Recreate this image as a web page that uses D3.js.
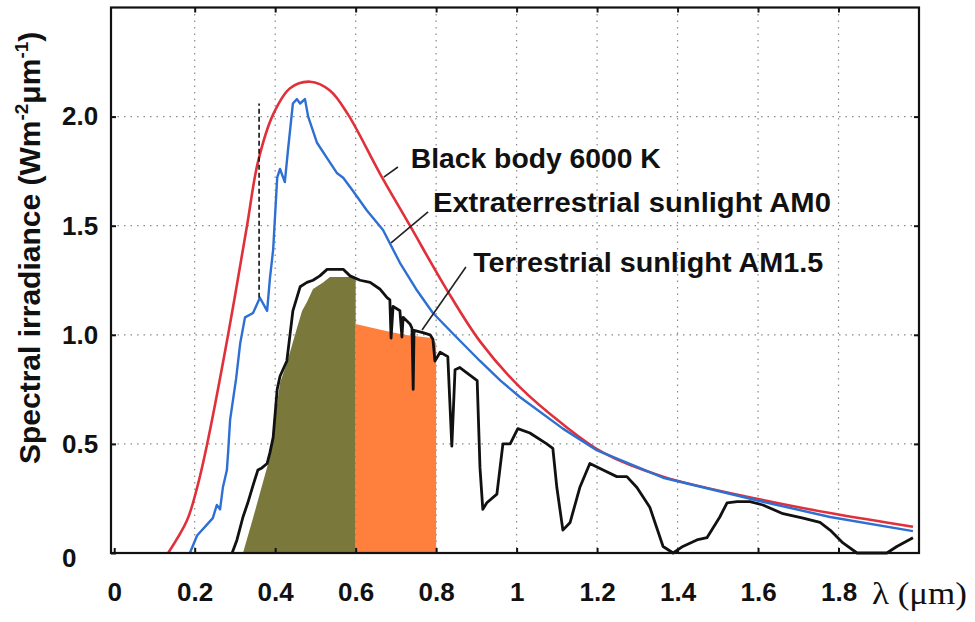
<!DOCTYPE html>
<html>
<head>
<meta charset="utf-8">
<script src="https://cdnjs.cloudflare.com/ajax/libs/d3/7.8.5/d3.min.js"></script>
<style>
  body { margin: 0; background: #fff; }
  svg { display: block; font-family: "Liberation Sans", Arial, sans-serif; }
</style>
</head>
<body>
<svg width="975" height="622"></svg>
<script>
// wavelength (um) / irradiance (W m-2 um-1)
var blackBody = [
  [0.134, 0], [0.181, 0.15], [0.206, 0.30], [0.231, 0.50], [0.283, 1.0], [0.330, 1.50],
  [0.357, 1.79], [0.395, 2.01], [0.437, 2.13], [0.487, 2.16], [0.536, 2.12], [0.581, 2.01],
  [0.660, 1.74], [0.735, 1.50], [0.827, 1.205], [0.909, 0.97], [1.008, 0.76],
  [1.115, 0.59], [1.215, 0.46], [1.364, 0.35], [1.612, 0.243], [1.779, 0.183], [1.985, 0.12]
];

var am0 = [
  [0.188, 0], [0.206, 0.08], [0.245, 0.16], [0.255, 0.22], [0.263, 0.20], [0.270, 0.30],
  [0.280, 0.38], [0.283, 0.46], [0.288, 0.61], [0.303, 0.80], [0.313, 0.96], [0.325, 1.08],
  [0.345, 1.10], [0.362, 1.17], [0.380, 1.11], [0.387, 1.26], [0.395, 1.39], [0.405, 1.72],
  [0.412, 1.76], [0.424, 1.70], [0.432, 1.85], [0.444, 2.06], [0.454, 2.08], [0.462, 2.06],
  [0.474, 2.08], [0.482, 2.00], [0.504, 1.88], [0.529, 1.81], [0.554, 1.74], [0.569, 1.72],
  [0.593, 1.66], [0.628, 1.57], [0.668, 1.48], [0.710, 1.33], [0.750, 1.21], [0.792, 1.10],
  [0.850, 0.99], [0.909, 0.88], [0.960, 0.79], [1.008, 0.715], [1.115, 0.57], [1.200, 0.47],
  [1.364, 0.345], [1.612, 0.235], [1.779, 0.165], [1.985, 0.10]
];

var am15 = [
  [0.293, 0], [0.305, 0.06], [0.320, 0.165], [0.332, 0.23], [0.345, 0.31], [0.357, 0.38],
  [0.367, 0.39], [0.380, 0.41], [0.387, 0.46], [0.395, 0.53], [0.405, 0.75], [0.412, 0.81],
  [0.429, 0.88], [0.444, 1.11], [0.462, 1.22], [0.479, 1.24], [0.494, 1.25], [0.511, 1.27],
  [0.529, 1.30], [0.569, 1.30], [0.586, 1.27], [0.611, 1.25], [0.636, 1.24], [0.660, 1.21],
  [0.678, 1.17], [0.685, 1.16], [0.688, 0.985], [0.693, 1.13], [0.710, 1.11], [0.715, 0.99],
  [0.718, 1.08], [0.735, 1.05], [0.740, 1.03], [0.743, 0.75], [0.745, 1.02], [0.767, 1.01],
  [0.785, 1.00], [0.792, 0.98], [0.797, 0.88], [0.810, 0.92], [0.829, 0.90], [0.839, 0.49],
  [0.847, 0.84], [0.859, 0.85], [0.902, 0.79], [0.909, 0.39], [0.916, 0.20], [0.926, 0.23],
  [0.951, 0.27], [0.966, 0.50], [0.984, 0.50], [1.003, 0.57], [1.033, 0.55], [1.075, 0.50],
  [1.090, 0.48], [1.100, 0.30], [1.115, 0.105], [1.133, 0.14], [1.157, 0.30], [1.182, 0.41],
  [1.215, 0.38], [1.249, 0.35], [1.274, 0.35], [1.299, 0.30], [1.331, 0.21], [1.364, 0.03],
  [1.389, 0], [1.413, 0.03], [1.448, 0.06], [1.473, 0.07], [1.505, 0.165], [1.523, 0.23],
  [1.548, 0.235], [1.580, 0.235], [1.612, 0.22], [1.662, 0.18], [1.712, 0.16], [1.754, 0.14],
  [1.779, 0.105], [1.811, 0.046], [1.846, 0], [1.920, 0], [1.945, 0.03], [1.985, 0.07]
];

// shaded bands under the AM1.5 curve
var oliveBand = [
  [0.320, 0], [0.345, 0.16], [0.387, 0.44], [0.412, 0.78], [0.429, 0.87], [0.454, 1.03],
  [0.467, 1.11], [0.479, 1.15], [0.494, 1.21], [0.519, 1.24], [0.536, 1.265], [0.600, 1.265]
];
var orangeBand = [
  [0.600, 1.05], [0.670, 1.02], [0.720, 1.00], [0.790, 0.985], [0.800, 0.96]
];

var xTicks = [0, 0.2, 0.4, 0.6, 0.8, 1, 1.2, 1.4, 1.6, 1.8];
var yTicks = [0, 0.5, 1.0, 1.5, 2.0];
var xGrid = [0.2, 0.4, 0.6, 0.8, 1, 1.2, 1.4, 1.6, 1.8];
var yGrid = [0.5, 1.0, 1.5, 2.0];

// the dashed marker near 0.36 um
var marker = [[0.36, 1.17], [0.36, 2.06]];

// labels: text, start point, leader line (all in data units)
var labels = [
  { text: "Black body 6000 K", at: [0.737, 1.764], len: 250, lead: [[0.670, 1.723], [0.705, 1.769]] },
  { text: "Extraterrestrial sunlight AM0", at: [0.792, 1.563], len: 398, lead: [[0.688, 1.421], [0.780, 1.563]] },
  { text: "Terrestrial sunlight AM1.5", at: [0.892, 1.288], len: 350, lead: [[0.765, 1.022], [0.874, 1.311]] }
];

var svg = d3.select("svg");
var plotL = 111, plotR = 919, plotT = 7.5, plotB = 553;

var x = d3.scaleLinear().domain([-0.008, 2.0]).range([plotL, plotR]);
var y = d3.scaleLinear().domain([0, 2.5]).range([plotB, plotT]);

// grid
var grid = svg.append("g").attr("stroke", "#8a8a8a").attr("stroke-width", 1.2)
    .attr("stroke-dasharray", "1.5,5");
grid.selectAll(".gx").data(xGrid).enter().append("line")
    .attr("x1", d => x(d)).attr("x2", d => x(d)).attr("y1", plotT).attr("y2", plotB);
grid.selectAll(".gy").data(yGrid).enter().append("line")
    .attr("x1", plotL).attr("x2", plotR).attr("y1", d => y(d)).attr("y2", d => y(d));

// filled bands
var area = d3.area().x(d => x(d[0])).y0(plotB).y1(d => y(d[1]));
svg.append("path").datum(oliveBand).attr("d", area).attr("fill", "#7a793b");
svg.append("path").datum(orangeBand).attr("d", area).attr("fill", "#ff7f3c");

// curves
var line = d3.line().x(d => x(d[0])).y(d => y(d[1]));
svg.append("path").datum(blackBody).attr("d", d3.line().x(d => x(d[0])).y(d => y(d[1])).curve(d3.curveCatmullRom))
    .attr("fill", "none").attr("stroke", "#e0303a").attr("stroke-width", 2.6);
svg.append("path").datum(am0).attr("d", line)
    .attr("fill", "none").attr("stroke", "#2d6fd2").attr("stroke-width", 2.4)
    .attr("stroke-linejoin", "round");
svg.append("path").datum(am15).attr("d", line)
    .attr("fill", "none").attr("stroke", "#111").attr("stroke-width", 2.8)
    .attr("stroke-linejoin", "round");

svg.append("path").datum(marker).attr("d", line)
    .attr("stroke", "#111").attr("stroke-width", 1.6).attr("stroke-dasharray", "5,3");

// frame
svg.append("rect").attr("x", plotL).attr("y", plotT)
    .attr("width", plotR - plotL).attr("height", plotB - plotT)
    .attr("fill", "none").attr("stroke", "#111").attr("stroke-width", 2.2);

// axes
var fmtX = d => (d === 0 || d === 1) ? String(d) : d3.format(".1f")(d);
var fmtY = d => d === 0 ? "0" : d3.format(".1f")(d);

var xAxis = svg.append("g").attr("transform", "translate(0," + plotB + ")")
    .call(d3.axisBottom(x).tickValues(xTicks).tickSize(-5).tickSizeOuter(0)
      .tickPadding(30).tickFormat(fmtX));
svg.append("g").attr("transform", "translate(0," + plotT + ")")
    .call(d3.axisTop(x).tickValues(xGrid).tickSize(-5).tickSizeOuter(0).tickFormat(""));
var yAxis = svg.append("g").attr("transform", "translate(" + plotL + ",0)")
    .call(d3.axisLeft(y).tickValues(yTicks).tickSize(-5).tickSizeOuter(0).tickFormat(fmtY));
svg.append("g").attr("transform", "translate(" + plotR + ",0)")
    .call(d3.axisRight(y).tickValues(yGrid).tickSize(-5).tickSizeOuter(0).tickFormat(""));

svg.selectAll(".domain").remove();
svg.selectAll(".tick line").attr("stroke", "#111").attr("stroke-width", 2);
svg.selectAll(".tick text").attr("fill", "#111")
    .style("font-size", "26px").style("font-weight", "bold")
    .style("font-family", "'Liberation Sans', Arial, sans-serif");
yAxis.selectAll(".tick text").attr("text-anchor", "start").attr("x", 62 - plotL);
yAxis.selectAll(".tick").filter(d => d === 0).select("text").attr("dy", "0.5em");

// axis titles
var yTitle = svg.append("text")
    .attr("transform", "translate(40,464) rotate(-90)")
    .attr("text-anchor", "start")
    .style("font-size", "30px").style("font-weight", "bold").attr("fill", "#111");
yTitle.append("tspan").text("Spectral irradiance  (Wm");
yTitle.append("tspan").attr("dy", -12).style("font-size", "19px").text("-2");
yTitle.append("tspan").attr("dy", 12).text("\u03bcm");
yTitle.append("tspan").attr("dy", -12).style("font-size", "19px").text("-1");
yTitle.append("tspan").attr("dy", 12).text(")");

svg.append("text").attr("x", 872).attr("y", 604)
    .attr("textLength", 95).attr("lengthAdjust", "spacingAndGlyphs")
    .style("font-family", "'Liberation Serif', 'Times New Roman', serif")
    .style("font-size", "31px").attr("fill", "#111")
    .text("\u03bb (\u03bcm)");

// curve labels with leader lines
labels.forEach(function(l) {
  svg.append("line")
      .attr("x1", x(l.lead[0][0])).attr("y1", y(l.lead[0][1]))
      .attr("x2", x(l.lead[1][0])).attr("y2", y(l.lead[1][1]))
      .attr("stroke", "#222").attr("stroke-width", 1.6);
  svg.append("text")
      .attr("x", x(l.at[0])).attr("y", y(l.at[1]))
      .attr("textLength", l.len).attr("lengthAdjust", "spacingAndGlyphs")
      .style("font-size", "27px").style("font-weight", "bold").attr("fill", "#111")
      .text(l.text);
});
</script>
</body>
</html>
